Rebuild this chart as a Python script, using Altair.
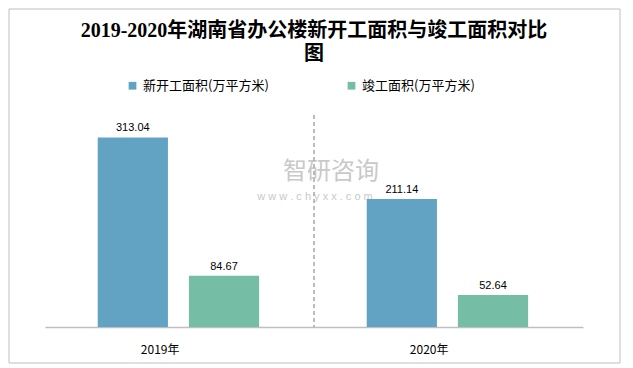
import altair as alt
import pandas as pd

years = ["2019年", "2020年"]
series = ["新开工面积(万平方米)", "竣工面积(万平方米)"]
new_start = [313.04, 211.14]
completed = [84.67, 52.64]
colors = ["#62a3c3", "#75bea5"]

rows = []
for i, y in enumerate(years):
    rows.append({"year": y, "series": series[0], "value": new_start[i], "label": f"{new_start[i]:.2f}"})
    rows.append({"year": y, "series": series[1], "value": completed[i], "label": f"{completed[i]:.2f}"})
df = pd.DataFrame(rows)

W, H = 538, 212

xscale = alt.Scale(domain=years, paddingInner=0, paddingOuter=0)
xoff = alt.XOffset("series:N", sort=series,
                   scale=alt.Scale(domain=series, paddingInner=0.23, paddingOuter=0.59, align=0.49))
yscale = alt.Scale(domain=[0, 350], nice=False)

base = alt.Chart(df)

bars = base.mark_bar().encode(
    x=alt.X("year:N", scale=xscale, sort=years,
            axis=alt.Axis(title=None, labelAngle=0, ticks=False, labelPadding=22,
                          labelFontSize=12, labelColor="#000000", labelFont="Noto Sans CJK SC",
                          domainColor="#bfbfbf", domainWidth=1.5, grid=False)),
    xOffset=xoff,
    y=alt.Y("value:Q", scale=yscale, axis=None),
    color=alt.Color("series:N", sort=series,
                    scale=alt.Scale(domain=series, range=colors),
                    legend=alt.Legend(title=None, orient="none", legendX=81, legendY=-36,
                                      direction="horizontal",
                                      symbolType="square", symbolSize=60, symbolStrokeWidth=0,
                                      labelFontSize=13, labelFont="Noto Sans CJK SC",
                                      labelColor="#000000", columnPadding=76,
                                      labelLimit=300)),
)

labels = base.mark_text(dy=-9, fontSize=11, font="Liberation Sans", color="#000000").encode(
    x=alt.X("year:N", scale=xscale, sort=years),
    xOffset=xoff,
    y=alt.Y("value:Q", scale=yscale),
    text="label:N",
)

div_df = pd.DataFrame({"year": [years[0]]})
divider = alt.Chart(div_df).mark_rule(color="#a6a6a6", strokeDash=[4, 3], strokeWidth=1.5).encode(
    x=alt.X("year:N", scale=xscale, sort=years, bandPosition=1),
    y=alt.value(0),
    y2=alt.value(H),
)

wm_df = pd.DataFrame({"t": ["智研咨询"], "u": ["w w w . c h y x x . c o m"]})
wm1 = alt.Chart(wm_df).mark_text(fontSize=24, font="Noto Sans CJK SC", color="#c9c9c9").encode(
    x=alt.value(286), y=alt.value(57), text="t:N")
wm2 = alt.Chart(wm_df).mark_text(fontSize=11, font="Liberation Sans", color="#c9c9c9").encode(
    x=alt.value(270), y=alt.value(82), text="u:N")

border = alt.Chart(wm_df).mark_rect(filled=False, stroke="#bfbfbf", strokeWidth=1).encode(
    x=alt.value(-36), x2=alt.value(575), y=alt.value(-106), y2=alt.value(248))

chart = alt.layer(border, wm1, wm2, divider, bars, labels).properties(
    width=W, height=H,
    autosize=alt.AutoSizeParams(type="none"),
    padding={"left": 37, "top": 107, "right": 39, "bottom": 38},
    title=alt.TitleParams(
        text=["2019-2020年湖南省办公楼新开工面积与竣工面积对比", "图"],
        fontSize=20, font="Liberation Serif, Noto Sans CJK SC", fontWeight="bold",
        color="#000000", anchor="middle", offset=-55, lineHeight=23,
    ),
).configure_view(stroke=None)

chart.save("out.html", embed_options={"renderer": "svg", "actions": False})
